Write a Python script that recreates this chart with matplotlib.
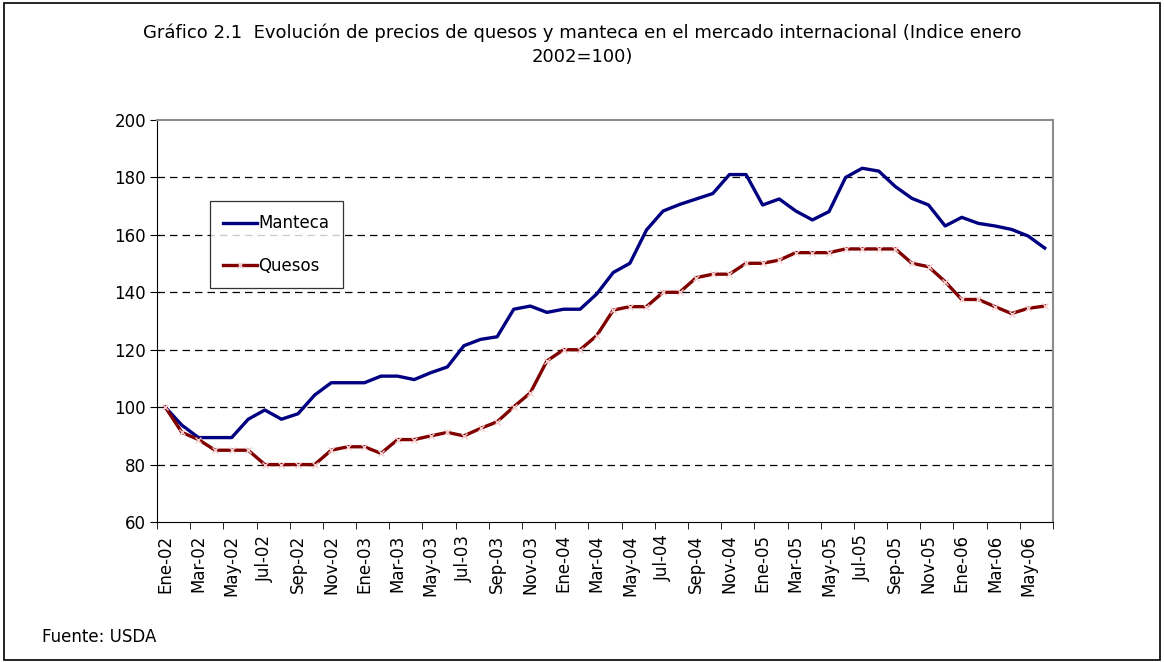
import matplotlib.pyplot as plt
from matplotlib.patches import Rectangle
import numpy as np

meses = ['Ene', 'Feb', 'Mar', 'Abr', 'May', 'Jun',
         'Jul', 'Ago', 'Sep', 'Oct', 'Nov', 'Dic']
periodos = [f"{m}-{a:02d}" for a in range(2, 7) for m in meses][:54]

manteca = [100, 93.7, 89.4, 89.4, 89.4, 95.8, 99.0, 95.8, 97.7, 104.2,
           108.5, 108.5, 108.5, 110.8, 110.8, 109.6, 112.0, 114.0, 121.4, 123.6,
           124.5, 134.1, 135.2, 133.0, 134.1, 134.1, 139.4, 146.9, 150.1, 161.7,
           168.3, 170.6, 172.5, 174.4, 181.0, 181.0, 170.4, 172.5, 168.3, 165.2,
           168.1, 180.0, 183.2, 182.2, 176.8, 172.7, 170.4, 163.1, 166.1, 164.0,
           163.1, 161.9, 159.6, 155.4]
quesos = [100, 91.2, 88.7, 85.0, 85.0, 85.0, 80.0, 80.0, 80.0, 80.0,
          85.0, 86.2, 86.2, 83.9, 88.7, 88.7, 90.0, 91.2, 90.0, 92.6,
          94.9, 100.1, 105.0, 116.1, 120.0, 120.0, 124.9, 133.8, 135.0, 135.0,
          140.0, 140.0, 145.1, 146.3, 146.3, 150.1, 150.1, 151.2, 153.8, 153.8,
          153.8, 155.1, 155.1, 155.1, 155.1, 150.1, 148.9, 143.7, 137.5, 137.5,
          135.0, 132.6, 134.4, 135.2]

titulo = ("Gráfico 2.1  Evolución de precios de quesos y manteca en el mercado "
          "internacional (Indice enero\n2002=100)")

plt.rcParams['font.family'] = 'DejaVu Sans'
fs = 12

fig = plt.figure(figsize=(11.64, 6.62), dpi=100)
W, H = 1164, 662
ax = fig.add_axes([157 / W, 1 - 522 / H, (1053 - 157) / W, (522 - 120) / H])

x = np.arange(len(periodos))
ax.plot(x, manteca, color='#000080', lw=2.4, label='Manteca')
ax.plot(x, quesos, color='#800000', lw=2.4, marker='x', ms=4,
        mec='#f4cccc', mew=1.0, label='Quesos')

ax.set_xlim(-0.5, len(periodos) - 0.5)
ax.set_ylim(60, 200)
ax.set_yticks(range(60, 201, 20))
ax.set_xticks(x[::2])
ax.set_xticklabels(periodos[::2], rotation=90, fontsize=fs)
ax.set_xticks(np.arange(-0.5, len(periodos), 2), minor=True)
ax.tick_params(axis='x', which='major', length=0, pad=9)
ax.tick_params(axis='x', which='minor', length=5, color='black')
ax.tick_params(axis='y', length=5, labelsize=fs, pad=3)

for v in range(80, 200, 20):
    ax.axhline(v, color='black', lw=0.9, ls=(0, (6, 4)), zorder=0)
ax.spines['top'].set_color('#8c8c8c')
ax.spines['right'].set_color('#8c8c8c')
ax.spines['top'].set_linewidth(1.5)
ax.spines['right'].set_linewidth(1.5)

leg = ax.legend(loc='upper left', bbox_to_anchor=((210 - 157) / 896, 1 - (201 - 120) / 402),
                fontsize=fs, frameon=True, fancybox=False, edgecolor='black',
                handlelength=2.0, handletextpad=0.1, labelspacing=1.45,
                borderpad=0.8, borderaxespad=0)
leg.get_frame().set_linewidth(0.9)

fig.text(0.5, 1 - 45 / H, titulo, ha='center', va='center', fontsize=13,
         linespacing=1.4)
fig.text(42 / W, 1 - 637 / H, 'Fuente: USDA', ha='left', va='center', fontsize=fs)

fig.patches.append(Rectangle((4 / W, 2 / H), 1 - 8 / W, 1 - 5 / H, transform=fig.transFigure,
                             fill=False, edgecolor='black', lw=1.2))

fig.savefig('out.png', dpi=100)
